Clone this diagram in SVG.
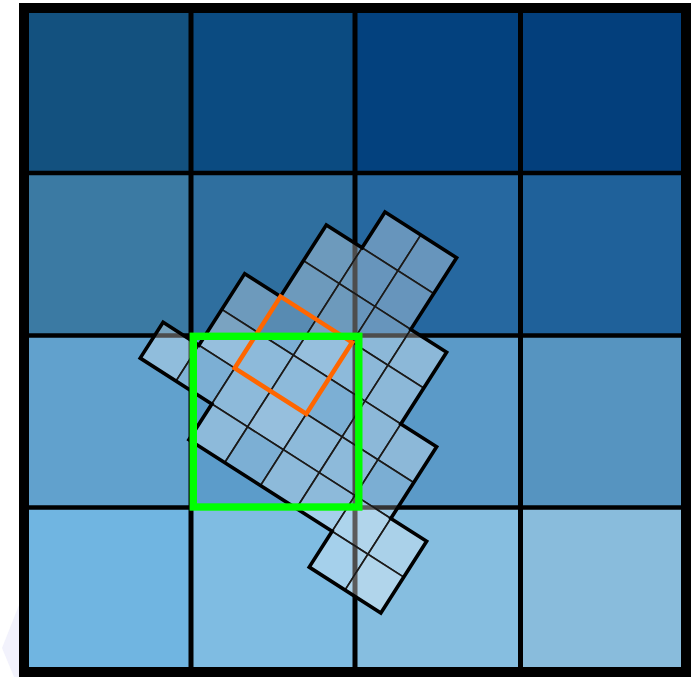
<svg xmlns="http://www.w3.org/2000/svg" width="693" height="677" viewBox="0 0 693 677">
  <style>
    .gl { stroke: #000; fill: none; }
    .cell { fill: #fff; fill-opacity: 0.3; stroke: #1a1a1a; stroke-width: 1.6; }
    .dk { fill-opacity: 0.2; }
    .lt { fill-opacity: 0.36; }
  </style>
  <rect width="693" height="677" fill="#fff"/>
  <polygon points="19,605 2,648 14,677 19,677" fill="#f2f2fc"/>
  <g id="background-grid">
    <rect x="29" y="13" width="162" height="160" fill="#13517f"/>
    <rect x="191" y="13" width="164" height="160" fill="#0b4b81"/>
    <rect x="355" y="13" width="165.5" height="160" fill="#03417e"/>
    <rect x="520.5" y="13" width="160.5" height="160" fill="#033f7c"/>
    <rect x="29" y="173" width="162" height="162.5" fill="#3b7aa3"/>
    <rect x="191" y="173" width="164" height="162.5" fill="#2f6f9f"/>
    <rect x="355" y="173" width="165.5" height="162.5" fill="#2668a0"/>
    <rect x="520.5" y="173" width="160.5" height="162.5" fill="#1f619a"/>
    <rect x="29" y="335.5" width="162" height="172" fill="#61a1cd"/>
    <rect x="191" y="335.5" width="164" height="172" fill="#5c9cca"/>
    <rect x="355" y="335.5" width="165.5" height="172" fill="#5b9ac8"/>
    <rect x="520.5" y="335.5" width="160.5" height="172" fill="#5694c0"/>
    <rect x="29" y="507.5" width="162" height="159.5" fill="#70b5e1"/>
    <rect x="191" y="507.5" width="164" height="159.5" fill="#7fbce2"/>
    <rect x="355" y="507.5" width="165.5" height="159.5" fill="#86bee0"/>
    <rect x="520.5" y="507.5" width="160.5" height="159.5" fill="#89bcdc"/>
    <line class="gl" x1="191" y1="13" x2="191" y2="667" stroke-width="5"/>
    <line class="gl" x1="355" y1="13" x2="355" y2="667" stroke-width="5"/>
    <line class="gl" x1="520.5" y1="13" x2="520.5" y2="667" stroke-width="5"/>
    <line class="gl" x1="29" y1="173" x2="681" y2="173" stroke-width="4.5"/>
    <line class="gl" x1="29" y1="335.5" x2="681" y2="335.5" stroke-width="4.5"/>
    <line class="gl" x1="29" y1="507.5" x2="681" y2="507.5" stroke-width="4.5"/>
    <rect class="gl" x="24" y="8" width="662" height="664" stroke-width="10"/>
  </g>
  <g id="rotated-grid" transform="translate(385,212) rotate(32.6)">
    <rect class="cell" x="0" y="0" width="42.5" height="42.5"/>
    <rect class="cell" x="42.5" y="0" width="42.5" height="42.5"/>
    <rect class="cell" x="-42.5" y="42.5" width="42.5" height="42.5"/>
    <rect class="cell" x="0" y="42.5" width="42.5" height="42.5"/>
    <rect class="cell" x="42.5" y="42.5" width="42.5" height="42.5"/>
    <rect class="cell" x="-42.5" y="85" width="42.5" height="42.5"/>
    <rect class="cell" x="0" y="85" width="42.5" height="42.5"/>
    <rect class="cell" x="42.5" y="85" width="42.5" height="42.5"/>
    <rect class="cell" x="85" y="85" width="42.5" height="42.5"/>
    <rect class="cell" x="-85" y="127.5" width="42.5" height="42.5"/>
    <rect class="cell dk" x="-42.5" y="127.5" width="42.5" height="42.5"/>
    <rect class="cell lt" x="0" y="127.5" width="42.5" height="42.5"/>
    <rect class="cell" x="42.5" y="127.5" width="42.5" height="42.5"/>
    <rect class="cell" x="85" y="127.5" width="42.5" height="42.5"/>
    <rect class="cell lt" x="-85" y="170" width="42.5" height="42.5"/>
    <rect class="cell" x="-42.5" y="170" width="42.5" height="42.5"/>
    <rect class="cell" x="0" y="170" width="42.5" height="42.5"/>
    <rect class="cell dk" x="42.5" y="170" width="42.5" height="42.5"/>
    <rect class="cell" x="85" y="170" width="42.5" height="42.5"/>
    <rect class="cell" x="127.5" y="170" width="42.5" height="42.5"/>
    <rect class="cell" x="-127.5" y="212.5" width="42.5" height="42.5"/>
    <rect class="cell dk" x="-85" y="212.5" width="42.5" height="42.5"/>
    <rect class="cell" x="-42.5" y="212.5" width="42.5" height="42.5"/>
    <rect class="cell lt" x="0" y="212.5" width="42.5" height="42.5"/>
    <rect class="cell" x="42.5" y="212.5" width="42.5" height="42.5"/>
    <rect class="cell" x="85" y="212.5" width="42.5" height="42.5"/>
    <rect class="cell dk" x="127.5" y="212.5" width="42.5" height="42.5"/>
    <rect class="cell" x="-42.5" y="255" width="42.5" height="42.5"/>
    <rect class="cell dk" x="0" y="255" width="42.5" height="42.5"/>
    <rect class="cell" x="42.5" y="255" width="42.5" height="42.5"/>
    <rect class="cell" x="85" y="255" width="42.5" height="42.5"/>
    <rect class="cell lt" x="127.5" y="255" width="42.5" height="42.5"/>
    <rect class="cell" x="170" y="255" width="42.5" height="42.5"/>
    <rect class="cell" x="127.5" y="297.5" width="42.5" height="42.5"/>
    <rect class="cell lt" x="170" y="297.5" width="42.5" height="42.5"/>
    <path d="M0,0 H85 V85 H127.5 V170 H170 V255 H212.5 V340 H127.5 V297.5 H-42.5 V255 H-127.5 V212.5 H-85 V127.5 H-42.5 V42.5 H0 Z" fill="none" stroke="#000" stroke-width="3.6" stroke-linejoin="miter"/>
  </g>
  <g id="orange-window" transform="translate(385,212) rotate(32.6)">
    <rect x="-42.5" y="127.5" width="85" height="85" fill="none" stroke="#ff6600" stroke-width="4.5"/>
  </g>
  <g id="green-window">
    <rect x="193.3" y="336.3" width="165.5" height="170.7" fill="none" stroke="#00ff00" stroke-width="7.4"/>
  </g>
</svg>
